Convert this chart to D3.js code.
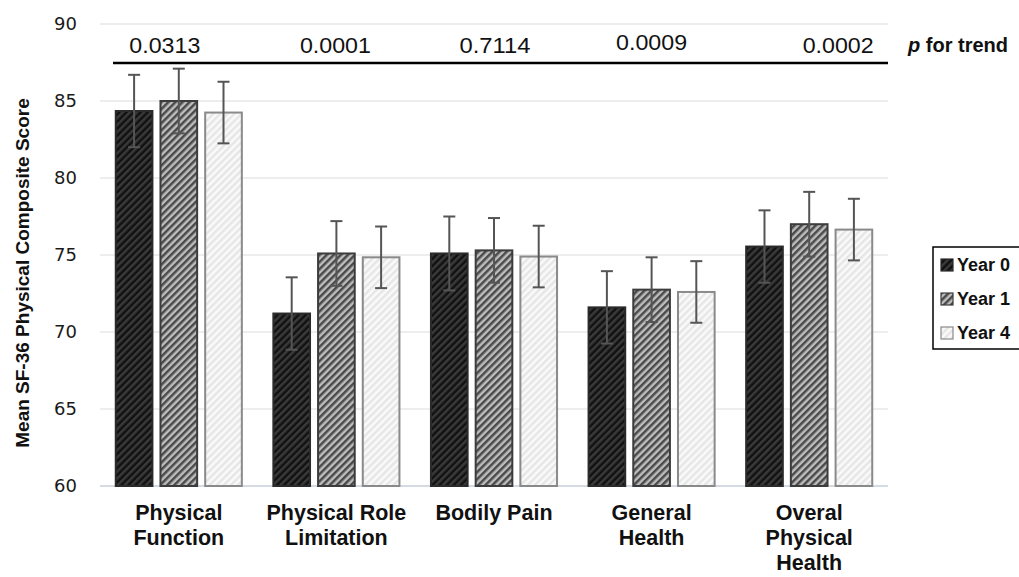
<!DOCTYPE html>
<html>
<head>
<meta charset="utf-8">
<script src="https://cdn.jsdelivr.net/npm/d3@7"></script>
<style>
  body { margin: 0; background: #fff; }
  text { font-family: Arial, "Liberation Sans", sans-serif; }
</style>
</head>
<body>
<div id="chart"></div>
<script>
var categories = ["Physical Function", "Physical Role Limitation", "Bodily Pain", "General Health", "Overal Physical Health"];
var categoryLines = [["Physical", "Function"], ["Physical Role", "Limitation"], ["Bodily Pain"], ["General", "Health"], ["Overal", "Physical", "Health"]];
var seriesNames = ["Year 0", "Year 1", "Year 4"];
var year0 = [84.35, 71.2, 75.1, 71.6, 75.55];
var year1 = [85.0, 75.1, 75.3, 72.75, 77.0];
var year4 = [84.25, 74.85, 74.9, 72.6, 76.65];
var year0Err = [2.35, 2.35, 2.4, 2.35, 2.35];
var year1Err = [2.1, 2.1, 2.1, 2.1, 2.1];
var year4Err = [2.0, 2.0, 2.0, 2.0, 2.0];
var pTrend = ["0.0313", "0.0001", "0.7114", "0.0009", "0.0002"];
var yTicks = [60, 65, 70, 75, 80, 85, 90];

var width = 1019, height = 577;
var margin = {top: 24, right: 131, bottom: 91, left: 100};

var svg = d3.select("#chart").append("svg")
    .attr("width", width)
    .attr("height", height);

// stripe patterns
var defs = svg.append("defs");
var patterns = [
    {id: "pat0", bg: "#111", fg: "#3a3a3a"},
    {id: "pat1", bg: "#bdbdbd", fg: "#4a4a4a"},
    {id: "pat4", bg: "#fafafa", fg: "#e6e6e6"}
];
patterns.forEach(function(p) {
    var pat = defs.append("pattern")
        .attr("id", p.id)
        .attr("patternUnits", "userSpaceOnUse")
        .attr("width", 5)
        .attr("height", 5)
        .attr("patternTransform", "rotate(45)");
    pat.append("rect").attr("width", 5).attr("height", 5).attr("fill", p.bg);
    pat.append("rect").attr("width", 2.5).attr("height", 5).attr("fill", p.fg);
});

var x0 = d3.scaleBand()
    .domain(categories)
    .range([margin.left, width - margin.right])
    .paddingInner(0.2)
    .paddingOuter(0.1);
var x1 = d3.scaleBand()
    .domain(seriesNames)
    .range([0, x0.bandwidth()])
    .paddingInner(0.18)
    .paddingOuter(0);
var y = d3.scaleLinear()
    .domain([60, 90])
    .range([height - margin.bottom, margin.top]);

// gridlines
svg.append("g").selectAll("line")
    .data(yTicks.slice(1)).enter().append("line")
    .attr("x1", margin.left).attr("x2", width - margin.right)
    .attr("y1", function(d) { return y(d); })
    .attr("y2", function(d) { return y(d); })
    .attr("stroke", "#dcdcdc").attr("stroke-width", 1);

svg.append("line")
    .attr("x1", margin.left).attr("x2", width - margin.right)
    .attr("y1", y(60)).attr("y2", y(60))
    .attr("stroke", "#d5dbe3").attr("stroke-width", 2);

// y tick labels
svg.append("g").selectAll("text")
    .data(yTicks).enter().append("text")
    .attr("x", 77)
    .attr("y", function(d) { return y(d); })
    .attr("dy", "0.36em")
    .attr("text-anchor", "end")
    .attr("font-size", 18)
    .style("font-family", "'DejaVu Sans', Verdana, sans-serif")
    .attr("fill", "#1a1a1a")
    .text(function(d) { return d; });

svg.append("text")
    .attr("transform", "translate(29,273) rotate(-90)")
    .attr("text-anchor", "middle")
    .attr("font-size", 19)
    .attr("font-weight", "bold")
    .attr("fill", "#111")
    .text("Mean SF-36 Physical Composite Score");

// bars
var series = [
    {name: "Year 0", values: year0, err: year0Err, fill: "url(#pat0)", stroke: "#2a2a2a"},
    {name: "Year 1", values: year1, err: year1Err, fill: "url(#pat1)", stroke: "#3c3c3c"},
    {name: "Year 4", values: year4, err: year4Err, fill: "url(#pat4)", stroke: "#8a8a8a"}
];

var rows = [];
series.forEach(function(s) {
    categories.forEach(function(c, i) {
        rows.push({cat: c, series: s, value: s.values[i], err: s.err[i]});
    });
});

svg.append("g").selectAll("rect")
    .data(rows).enter().append("rect")
    .attr("x", function(d) { return x0(d.cat) + x1(d.series.name); })
    .attr("y", function(d) { return y(d.value); })
    .attr("width", x1.bandwidth())
    .attr("height", function(d) { return y(60) - y(d.value); })
    .attr("fill", function(d) { return d.series.fill; })
    .attr("stroke", function(d) { return d.series.stroke; })
    .attr("stroke-width", 2);

// error bars
var eb = svg.append("g").attr("stroke", "#555").attr("stroke-width", 2);
rows.forEach(function(d) {
    var cx = x0(d.cat) + x1(d.series.name) + x1.bandwidth() / 2;
    var top = y(d.value + d.err), bot = y(d.value - d.err);
    eb.append("line").attr("x1", cx).attr("x2", cx).attr("y1", top).attr("y2", bot);
    eb.append("line").attr("x1", cx - 6).attr("x2", cx + 6).attr("y1", top).attr("y2", top);
    eb.append("line").attr("x1", cx - 6).attr("x2", cx + 6).attr("y1", bot).attr("y2", bot);
});

// p for trend
svg.append("line")
    .attr("x1", 113).attr("x2", 888)
    .attr("y1", 63).attr("y2", 63)
    .attr("stroke", "#000").attr("stroke-width", 2.5);

var pOffsets = [-14, -1, 1, 0, 29];
svg.append("g").selectAll("text")
    .data(pTrend).enter().append("text")
    .attr("x", function(d, i) { return x0(categories[i]) + x0.bandwidth() / 2 + pOffsets[i]; })
    .attr("y", function(d, i) { return i === 3 ? 50 : 53; })
    .attr("text-anchor", "middle")
    .attr("font-size", 22)
    .attr("textLength", 71)
    .attr("lengthAdjust", "spacingAndGlyphs")
    .attr("fill", "#111")
    .text(function(d) { return d; });

var pt = svg.append("text")
    .attr("x", 908).attr("y", 52)
    .attr("font-size", 20)
    .attr("font-weight", "bold")
    .attr("fill", "#111");
pt.append("tspan").attr("font-style", "italic").text("p");
pt.append("tspan").text(" for trend");

// category labels
var catG = svg.append("g").selectAll("text")
    .data(categories).enter().append("text")
    .attr("text-anchor", "middle")
    .attr("font-size", 21.5)
    .attr("font-weight", "bold")
    .attr("fill", "#111");
catG.each(function(c, i) {
    var t = d3.select(this);
    categoryLines[i].forEach(function(line, j) {
        t.append("tspan")
            .attr("x", x0(c) + x0.bandwidth() / 2)
            .attr("y", 520 + j * 25)
            .text(line);
    });
});

// legend
var lg = svg.append("g").attr("transform", "translate(933,247)");
lg.append("rect")
    .attr("width", 95).attr("height", 102)
    .attr("fill", "#fff").attr("stroke", "#000").attr("stroke-width", 1.5);
series.forEach(function(s, i) {
    var g = lg.append("g").attr("transform", "translate(8," + (18 + i * 34) + ")");
    g.append("rect")
        .attr("x", 0).attr("y", -6).attr("width", 12).attr("height", 12)
        .attr("fill", s.fill).attr("stroke", s.stroke).attr("stroke-width", 1.2);
    g.append("text")
        .attr("x", 16).attr("y", 0).attr("dy", "0.36em")
        .attr("font-size", 18).attr("font-weight", "bold").attr("fill", "#111")
        .text(s.name);
});
</script>
</body>
</html>
